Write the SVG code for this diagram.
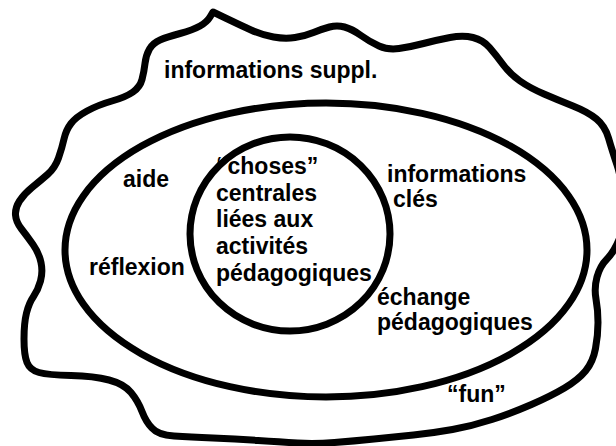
<svg xmlns="http://www.w3.org/2000/svg" width="616" height="446" viewBox="0 0 616 446">
<style>
.ln{fill:none;stroke:#000;stroke-width:7;stroke-linejoin:round;stroke-linecap:round}
.t{font-family:"Liberation Sans",Arial,Helvetica,sans-serif;font-weight:bold;font-size:23px;fill:#000}
</style>
<rect width="616" height="446" fill="#fff"/>
<g id="outer">
<text class="t" x="164" y="78">informations suppl.</text>
<text class="t" x="447" y="402">“fun”</text>
<path class="ln" d="M213,12 L226.5,18.5 Q240,25 251,30 Q262,35 273.5,37 Q285,39 295,37.5 Q305,36 313.5,32.5 Q322,29 329.5,27 Q337,25 344.5,27 Q352,29 361,35.5 Q370,42 379,46 Q388,50 399,48.5 Q410,47 423.5,43.5 Q437,40 450,37.5 Q463,35 473,37.5 Q483,40 489.5,47.5 Q496,55 503,64.5 Q510,74 520,81 Q530,88 544,94 Q558,100 573,106 Q588,112 596.5,119 Q605,126 608.5,138 Q612,150 617,165 Q622,180 623.5,202.5 Q625,225 619.5,238.5 Q614,252 607,259 Q600,266 597,277 Q594,288 596,299 Q598,310 598,322.5 Q598,335 595.5,348.5 Q593,362 585.5,371 Q578,380 564.5,388 Q551,396 531.5,404.5 Q512,413 492,419.5 Q472,426 452.5,429.5 Q433,433 413.5,435 Q394,437 374,439 Q354,441 334.5,442.5 Q315,444 297.5,443 Q280,442 258,440.5 Q236,439 213,438 Q190,437 174,436 Q158,435 152,428 Q146,422 142,411.5 Q138,401 131,392.5 Q124,384 109,380 Q94,376 71,375.5 Q48,375 39,372.5 Q30,370 27,362.5 Q24,355 24,339 Q24,323 26.5,313 Q29,303 33.5,296.5 Q38,290 40.5,281 Q43,272 41,262.5 Q39,253 33,244.5 Q27,236 21.5,229 Q16,222 15.5,215 Q15,208 19.5,201 Q24,194 32,187.5 Q40,181 47.5,174.5 Q55,168 58.5,158 Q62,148 64,139 Q66,130 71,123.5 Q76,117 87,111 Q98,105 112,101 Q126,97 133,92 Q140,87 142,79.5 Q144,72 145,63.5 Q146,55 149.5,49 Q153,43 160,40 Q167,37 180,33.5 Q193,30 200,26 Q207,22 210,17 L213,12 Z"/>
</g>
<g id="middle">
<text class="t" x="123" y="187">aide</text>
<text class="t" x="89" y="275">réflexion</text>
<text class="t" x="387" y="182">informations</text>
<text class="t" x="393" y="207">clés</text>
<text class="t" x="377" y="305">échange</text>
<text class="t" x="377" y="330">pédagogiques</text>
<ellipse class="ln" cx="326" cy="250" rx="261" ry="147"/>
</g>
<g id="inner">
<text class="t" x="216" y="174">“choses”</text>
<text class="t" x="216" y="201">centrales</text>
<text class="t" x="216" y="227">liées aux</text>
<text class="t" x="216" y="254">activités</text>
<text class="t" x="216" y="281">pédagogiques</text>
<ellipse class="ln" cx="290" cy="234" rx="100" ry="97"/>
</g>
</svg>
